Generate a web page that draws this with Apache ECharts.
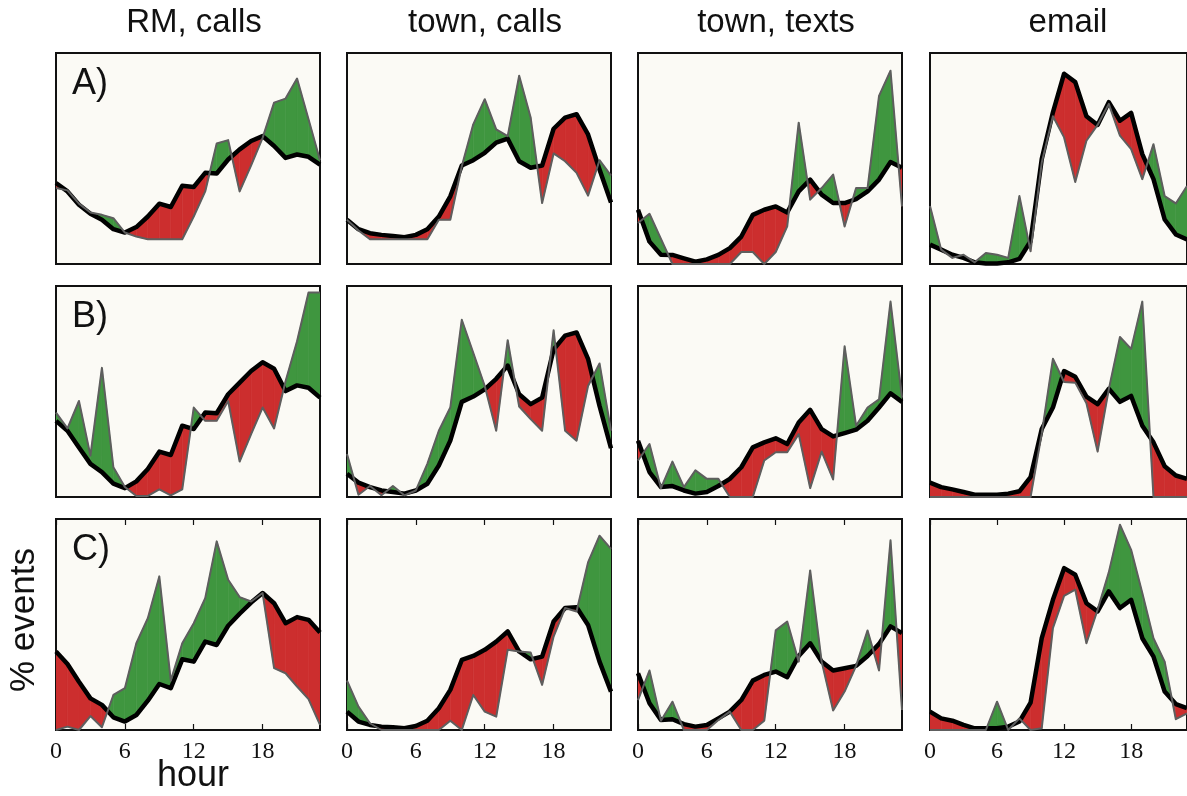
<!DOCTYPE html>
<html>
<head>
<meta charset="utf-8">
<script src="https://cdn.jsdelivr.net/npm/echarts@6/dist/echarts.min.js"></script>
<style>
html,body{margin:0;padding:0;background:#ffffff;}
#chart{width:1187px;height:796px;}
</style>
</head>
<body>
<div id="chart"></div>
<script>
// ---------- data ----------
const HOURS = [0,1,2,3,4,5,6,7,8,9,10,11,12,13,14,15,16,17,18,19,20,21,22,23];
const HOUR_TICKS = [0,6,12,18];
const COLUMN_TITLES = ['RM, calls','town, calls','town, texts','email'];
const ROW_LABELS = ['A)','B)','C)'];

// row A
const avgA_rmCalls   = [38.4,34.4,28.1,23.8,21.0,16.5,14.9,17.5,22.5,28.6,27.0,37.1,36.5,43.2,42.9,49.5,54.3,58.3,60.6,55.9,50.3,51.9,50.8,47.1];
const indA_rmCalls   = [36.0,34.9,28.6,24.4,23.3,21.7,14.9,13.0,11.7,11.7,11.7,11.7,22.5,34.4,57.1,58.7,34.4,46.7,59.8,76.5,78.4,87.9,68.6,49.2];
const avgA_townCalls = [21.0,16.5,14.6,13.8,13.3,12.7,13.8,16.5,22.5,32.1,46.7,49.2,52.7,57.5,59.4,48.7,45.6,46.7,64.1,69.4,71.0,61.4,44.8,29.2];
const indA_townCalls = [21.0,15.9,11.7,11.7,11.7,11.7,11.7,11.7,21.0,21.0,46.3,66.2,78.1,63.8,60.6,89.2,69.4,28.9,52.4,48.7,43.2,32.4,49.2,41.9];
const avgA_townTexts = [25.7,10.6,4.4,4.3,2.7,1.1,2.2,4.3,7.5,13.0,23.3,25.7,27.3,24.4,34.4,40.0,32.9,28.9,28.9,30.8,34.4,40.0,48.3,45.6];
const indA_townTexts = [19.4,23.8,11.9,0,0,0,0,0,0,5.7,5.7,0,5.7,17.8,67.0,30.5,36.0,42.4,17.8,36.0,36.0,79.7,91.6,27.3];
const avgA_email     = [9.2,6.8,4.4,2.9,0.8,0.2,0.2,0.8,2.4,10.8,49.7,71.9,90.2,86.2,70.0,65.9,76.7,67.9,71.6,52.1,40.2,21.1,14.0,11.6];
const indA_email     = [27.5,6.8,2.9,4.4,0.8,5.2,4.4,2.9,32.2,6.0,48.1,70.0,60.0,38.9,58.4,65.9,75.9,60.8,54.4,40.2,56.8,32.2,28.7,37.0];

// row B
const avgB_rmCalls   = [36.1,31.4,23.5,15.7,11.8,6.3,4.2,7.4,13.3,21.5,19.9,33.8,32.2,40.0,39.7,48.7,54.2,59.7,63.9,60.8,50.2,52.9,51.8,47.1];
const indB_rmCalls   = [40.0,32.5,45.5,19.6,61.2,14.1,4.7,0.5,0.5,3.6,0.8,3.6,42.4,36.1,36.1,45.5,16.8,29.8,42.4,32.5,54.9,73.8,96.9,96.9];
const avgB_townCalls = [11.0,6.8,4.7,3.1,2.4,1.6,3.1,6.3,14.9,26.7,45.1,47.6,51.0,56.0,62.3,48.7,44.0,47.1,69.9,76.5,78.0,65.5,43.2,23.1];
const indB_townCalls = [20.4,1.1,5.2,0.8,5.2,0.8,3.1,15.7,31.4,42.4,84.0,68.3,52.6,31.4,74.3,42.9,36.9,31.4,79.0,31.4,26.7,52.6,63.3,31.4];
const avgB_townTexts = [26.7,11.8,4.7,5.2,3.1,1.6,2.4,5.2,8.6,14.1,23.5,25.9,27.8,25.1,35.3,41.3,32.2,28.7,30.3,31.9,36.1,42.4,49.1,45.1];
const indB_townTexts = [17.3,25.1,4.2,16.8,4.7,12.6,8.6,8.6,0,0,0,17.3,21.2,21.2,29.8,4.2,21.5,8.3,71.4,33.8,42.4,46.3,92.6,47.1];
const avgB_email     = [6.8,4.7,3.6,2.4,1.1,1.1,1.1,1.6,2.7,9.4,32.2,42.4,59.7,57.0,47.6,44.0,51.3,45.1,47.9,33.8,25.9,14.6,10.2,8.6];
const indB_email     = [0,0,0,0,0,0,0,0,0,0,30.0,65.5,54.5,54.2,44.4,21.5,51.0,75.8,70.2,92.6,0,0,0,0];

// row C
const avgC_rmCalls   = [37.2,31.3,22.9,15.0,11.9,6.0,4.0,7.1,13.9,21.8,19.8,33.5,32.4,41.9,40.3,49.4,55.1,60.4,64.9,60.1,50.6,53.5,52.2,46.2];
const indC_rmCalls   = [0,1.6,0,6.6,1.3,16.6,19.8,41.1,53.0,72.8,23.4,41.1,50.6,62.5,89.4,71.2,63.0,60.9,64.9,29.3,26.9,20.6,14.6,2.4];
const avgC_townCalls = [8.7,4.0,2.4,1.6,1.3,0.8,1.9,4.4,10.3,19.0,33.2,35.1,38.0,41.9,46.7,37.2,33.5,34.8,51.4,57.8,58.2,49.8,32.4,18.2];
const indC_townCalls = [23.4,11.1,3.2,0,0,0,0,0,0,4.4,0,16.6,8.7,6.3,38.0,37.2,36.7,21.4,44.3,57.8,56.2,79.4,92.1,85.8];
const avgC_townTexts = [26.9,12.7,4.7,5.1,2.8,1.6,2.4,5.5,8.7,14.2,23.4,26.1,27.7,25.0,35.1,41.1,32.4,28.2,29.3,30.4,35.1,40.8,49.1,45.9];
const indC_townTexts = [14.2,28.2,4.4,13.4,0,0,0,4.7,8.7,0,0,4.4,47.2,51.4,32.4,75.6,32.4,9.2,18.2,30.4,47.2,28.2,89.9,9.5];
const avgC_email     = [8.7,5.5,4.4,2.4,0.8,0.8,0.8,1.6,4.0,13.0,43.5,61.7,76.7,73.6,60.1,56.2,65.7,57.8,61.7,43.5,34.8,18.2,12.3,10.3];
const indC_email     = [0,0,0,0,0,0,13.4,0,5.5,0,0.8,48.3,63.6,66.5,41.1,57.0,74.7,97.3,85.4,64.9,43.5,32.4,5.1,7.9];

const PANELS = [
  [[avgA_rmCalls,indA_rmCalls],[avgA_townCalls,indA_townCalls],[avgA_townTexts,indA_townTexts],[avgA_email,indA_email]],
  [[avgB_rmCalls,indB_rmCalls],[avgB_townCalls,indB_townCalls],[avgB_townTexts,indB_townTexts],[avgB_email,indB_email]],
  [[avgC_rmCalls,indC_rmCalls],[avgC_townCalls,indC_townCalls],[avgC_townTexts,indC_townTexts],[avgC_email,indC_email]]
];

// ---------- layout / style ----------
const COL_LEFT = [56, 347, 638, 930];
const ROW_TOP = [53, 286, 519];
const PW = 264, PH = 211;
const GREEN = '#3f963f';
const RED = '#cc2e2e';
const BG = '#fbfaf5';

const chart = echarts.init(document.getElementById('chart'), null, {renderer:'canvas'});

const grids = [], xAxes = [], yAxes = [], series = [];
let xi = 0;
for (let r = 0; r < 3; r++) {
  for (let c = 0; c < 4; c++) {
    const gi = r * 4 + c;
    grids.push({left: COL_LEFT[c], top: ROW_TOP[r], width: PW, height: PH,
      show: true, backgroundColor: BG, borderColor: '#111', borderWidth: 2});
    const bottomRow = (r === 2);
    const xBottom = xi++;
    xAxes.push({gridIndex: gi, type: 'value', min: 0, max: 23, position: 'bottom',
      show: bottomRow,
      axisLine: {show: false}, splitLine: {show: false},
      axisTick: {show: true, inside: true, length: 6, customValues: HOUR_TICKS, lineStyle: {color: '#111', width: 1.2}},
      axisLabel: {show: true, customValues: HOUR_TICKS, margin: 10, color: '#111',
        fontFamily: 'Liberation Serif', fontSize: 24}});
    if (bottomRow) {
      xi++;
      xAxes.push({gridIndex: gi, type: 'value', min: 0, max: 23, position: 'top',
        axisLine: {show: false}, splitLine: {show: false},
        axisTick: {show: true, inside: true, length: 6, customValues: HOUR_TICKS, lineStyle: {color: '#111', width: 1.2}},
        axisLabel: {show: false}});
    }
    yAxes.push({gridIndex: gi, type: 'value', min: 0, max: 100, show: false});

    const avg = PANELS[r][c][0], ind = PANELS[r][c][1];
    series.push({
      type: 'custom', xAxisIndex: xBottom, yAxisIndex: gi, clip: true, silent: true, z: 1,
      data: HOURS.slice(0, -1).map(h => [h]),
      renderItem: function (params, api) {
        const i = params.dataIndex;
        const a0 = avg[i], a1 = avg[i + 1], b0 = ind[i], b1 = ind[i + 1];
        const d0 = b0 - a0, d1 = b1 - a1;
        const children = [];
        const poly = (pts, col) => children.push({type: 'polygon',
          shape: {points: pts.map(p => api.coord(p))},
          style: {fill: col, stroke: col, lineWidth: 0.6}});
        const x0 = HOURS[i], x1 = HOURS[i + 1];
        if (d0 * d1 >= 0) {
          if (d0 === 0 && d1 === 0) return null;
          poly([[x0, a0], [x1, a1], [x1, b1], [x0, b0]], (d0 + d1) > 0 ? GREEN : RED);
        } else {
          const t = d0 / (d0 - d1);
          const xc = x0 + t * (x1 - x0), yc = a0 + t * (a1 - a0);
          poly([[x0, a0], [xc, yc], [x0, b0]], d0 > 0 ? GREEN : RED);
          poly([[xc, yc], [x1, a1], [x1, b1]], d1 > 0 ? GREEN : RED);
        }
        return {type: 'group', children: children};
      }
    });
    series.push({type: 'line', xAxisIndex: xBottom, yAxisIndex: gi, z: 3, silent: true,
      symbol: 'none', data: HOURS.map((h, k) => [h, avg[k]]),
      lineStyle: {color: '#000', width: 4.5, join: 'round'}});
    series.push({type: 'line', xAxisIndex: xBottom, yAxisIndex: gi, z: 4, silent: true,
      symbol: 'none', data: HOURS.map((h, k) => [h, ind[k]]),
      lineStyle: {color: '#5e5e5e', width: 2, join: 'round'}});
  }
}

const graphics = [];
COLUMN_TITLES.forEach((t, c) => {
  graphics.push({type: 'text', x: COL_LEFT[c] + PW / 2 + 6, y: 23,
    style: {text: t, fill: '#111', font: '33px "Liberation Sans"', textAlign: 'center', textVerticalAlign: 'middle'}});
});
ROW_LABELS.forEach((t, r) => {
  graphics.push({type: 'text', x: 72, y: ROW_TOP[r] + 31, z: 10,
    style: {text: t, fill: '#111', font: '36px "Liberation Sans"', textAlign: 'left', textVerticalAlign: 'middle'}});
});
graphics.push({type: 'text', x: 24, y: 620, rotation: Math.PI / 2,
  style: {text: '% events', fill: '#111', font: '35px "Liberation Sans"', textAlign: 'center', textVerticalAlign: 'middle'}});
graphics.push({type: 'text', x: 193, y: 776,
  style: {text: 'hour', fill: '#111', font: '36px "Liberation Sans"', textAlign: 'center', textVerticalAlign: 'middle'}});

chart.setOption({
  animation: false,
  backgroundColor: '#ffffff',
  grid: grids,
  xAxis: xAxes,
  yAxis: yAxes,
  series: series,
  graphic: graphics
});
</script>
</body>
</html>
